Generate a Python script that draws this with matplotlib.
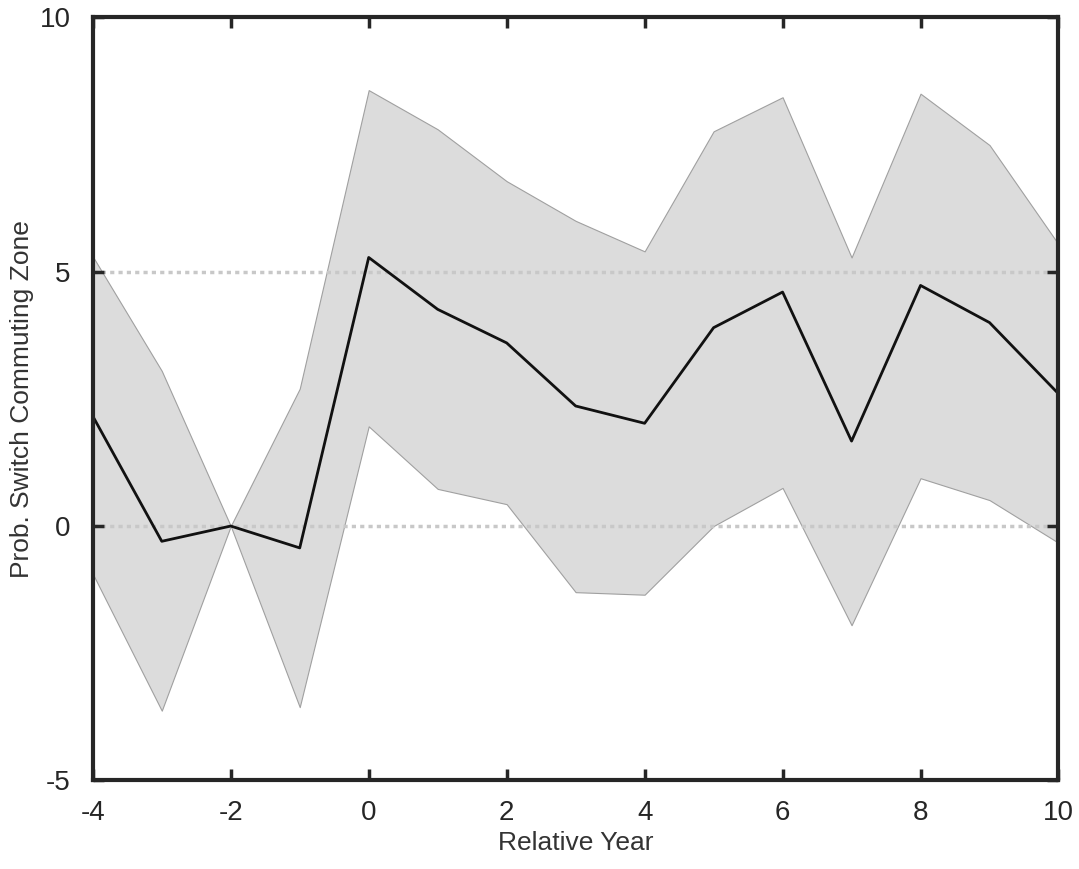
import matplotlib.pyplot as plt
import numpy as np

plt.rcParams['font.family'] = ['Liberation Sans', 'DejaVu Sans']
plt.rcParams['axes.unicode_minus'] = False

years = np.arange(-4, 11)
estimate = [2.16, -0.3, 0.0, -0.43, 5.28, 4.26, 3.6, 2.36, 2.02, 3.9, 4.6, 1.67, 4.73, 4.0, 2.6]
upper = [5.3, 3.05, 0.0, 2.7, 8.57, 7.8, 6.78, 6.0, 5.4, 7.76, 8.43, 5.28, 8.5, 7.49, 5.54]
lower = [-0.94, -3.63, 0.0, -3.56, 1.96, 0.73, 0.43, -1.3, -1.35, 0.0, 0.75, -1.95, 0.94, 0.51, -0.33]

fig = plt.figure(figsize=(10.79, 8.69), dpi=100)
ax = fig.add_axes([0.086, 0.102, 0.895, 0.878])

ax.fill_between(years, lower, upper, facecolor='#dcdcdc', edgecolor='#a0a0a0', linewidth=0.8)
for yv in (0, 5):
    ax.axhline(yv, color='#c8c8c8', linestyle=(0, (1.2, 1.2)), linewidth=2.5, zorder=1)
ax.plot(years, estimate, color='#111111', linewidth=2)

ax.set_xlim(-4, 10)
ax.set_ylim(-5, 10)
ax.set_xticks(range(-4, 11, 2))
ax.set_yticks([-5, 0, 5, 10])
ax.tick_params(direction='in', length=8, width=2.5, labelsize=20, top=True, right=True,
               color='#262626', labelcolor='#262626')
ax.tick_params(axis='x', pad=14)
ax.tick_params(axis='y', pad=16)
for s in ax.spines.values():
    s.set_linewidth(3)
    s.set_color('#262626')
ax.set_xlabel('Relative Year', fontsize=19, color='#333333', labelpad=4)
ax.set_ylabel('Prob. Switch Commuting Zone', fontsize=19, color='#333333', labelpad=4)

fig.savefig('out.png', dpi=100)
